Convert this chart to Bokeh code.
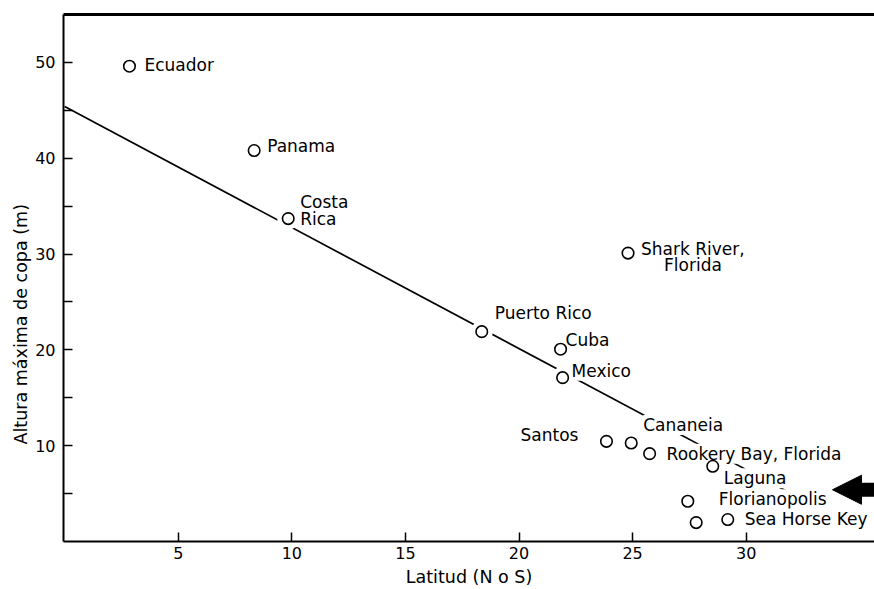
from bokeh.plotting import figure
from bokeh.models import (ColumnDataSource, LabelSet, FixedTicker, LinearAxis, Title,
                          Arrow, NormalHead, Range1d)
from bokeh.core.properties import value
from bokeh.embed import file_html
from bokeh.resources import INLINE

# ---- data ----
sites = ["Ecuador", "Panama", "Costa Rica", "Puerto Rico", "Cuba", "Mexico",
         "Shark River, Florida", "Santos", "Cananeia", "Rookery Bay, Florida",
         "Laguna", "Florianopolis", "", "Sea Horse Key"]
latitude = [2.85, 8.34, 9.84, 18.36, 21.83, 21.92, 24.8, 23.85, 24.94, 25.75,
            28.53, 27.43, 27.8, 29.19]
max_height = [49.6, 40.8, 33.7, 21.9, 20.07, 17.1, 30.1, 10.45, 10.28, 9.17,
              7.85, 4.2, 1.97, 2.29]

# regression line end points
fit_x = [0.0, 33.8]
fit_y = [45.4, 2.7]

# label lines and the site each belongs to
label_text = ["Ecuador", "Panama", "Costa", "Rica", "Puerto Rico", "Cuba", "Mexico",
              "Shark River,", "Florida", "Cananeia", "Rookery Bay, Florida",
              "Laguna", "Florianopolis", "Sea Horse Key"]
label_site = [0, 1, 2, 2, 3, 4, 5, 6, 6, 8, 9, 10, 11, 13]
right_label_text = ["Santos"]
right_label_site = [7]

x_ticks = [5, 10, 15, 20, 25, 30]
y_ticks = [10, 20, 30, 40, 50]
y_minor = [5, 15, 25, 35, 45]

x_title = "Latitud (N o S)"
y_title = "Altura máxima de copa (m)"

arrow_x = [36.5, 33.8]
arrow_y = 5.4

# ---- styling (screen offsets for labels) ----
label_dx = [15, 13, 12, 12, 13, 5, 9, 13, 36, 12, 17, 11, 31, 17]
label_dy = [1, 5, 17, 0, 19, 9, 7, 4, -12, 18, 0, -12, 2, 1]
right_dx = [-28]
right_dy = [6]

FONT = "DejaVu Sans"

p = figure(width=874, height=589, output_backend="svg", toolbar_location=None,
           x_range=Range1d(-0.053, 35.65), y_range=Range1d(0, 55),
           min_border_left=63, min_border_right=0, min_border_top=14, min_border_bottom=47)
p.outline_line_color = None
p.background_fill_color = "white"
p.border_fill_color = "white"
p.xgrid.visible = False
p.ygrid.visible = False

# axes
xa = p.xaxis[0]
xa.ticker = FixedTicker(ticks=x_ticks, minor_ticks=[])
xa.axis_line_width = 2.2
xa.axis_line_color = "black"
xa.major_tick_in = 9
xa.major_tick_out = 0
xa.major_tick_line_width = 1.5
xa.major_tick_line_color = "black"
xa.minor_tick_line_color = None
xa.major_label_text_font = FONT
xa.major_label_text_font_size = "16px"
xa.major_label_text_color = "black"
xa.major_label_standoff = 5
xa.axis_label = x_title
xa.axis_label_text_font = FONT
xa.axis_label_text_font_size = "17.5px"
xa.axis_label_text_font_style = "normal"
xa.axis_label_text_color = "black"
xa.axis_label_standoff = 5

ya = p.yaxis[0]
ya.ticker = FixedTicker(ticks=y_ticks, minor_ticks=y_minor)
ya.axis_line_width = 2
ya.axis_line_color = "black"
ya.major_tick_in = 9
ya.major_tick_out = 0
ya.minor_tick_in = 9
ya.minor_tick_out = 0
ya.major_tick_line_width = 1.5
ya.minor_tick_line_width = 1.5
ya.major_tick_line_color = "black"
ya.minor_tick_line_color = "black"
ya.major_label_text_font = FONT
ya.major_label_text_font_size = "16px"
ya.major_label_text_color = "black"
ya.major_label_standoff = 8

top = LinearAxis(ticker=FixedTicker(ticks=[]), axis_line_width=3, axis_line_color="black",
                 major_tick_line_color=None, minor_tick_line_color=None,
                 major_label_text_font_size="0px", major_tick_out=0, major_tick_in=0,
                 major_label_standoff=0)
p.add_layout(top, "above")

# y axis title, left of the axis, lower than centre as in the original
ytitle = Title(text=y_title, align="left", offset=97,
               text_font=FONT, text_font_size="17.5px", text_font_style="normal",
               text_color="black", standoff=4)
p.add_layout(ytitle, "left")

# regression line
p.line(fit_x, fit_y, line_color="black", line_width=1.7)

src = ColumnDataSource(dict(x=latitude, y=max_height, site=sites))
# white halos to break the line around points
p.scatter("x", "y", source=src, size=22, marker="circle", fill_color="white",
          line_color=None)

lab_src = ColumnDataSource(dict(
    x=[latitude[i] for i in label_site],
    y=[max_height[i] for i in label_site],
    text=label_text, dx=label_dx, dy=label_dy))
p.add_layout(LabelSet(x="x", y="y", text="text", source=lab_src,
                      x_offset="dx", y_offset="dy",
                      text_font=value(FONT), text_font_size=value("17px"),
                      text_color="black",
                      text_align="left", text_baseline="middle",
                      background_fill_color="white"))

rlab_src = ColumnDataSource(dict(
    x=[latitude[i] for i in right_label_site],
    y=[max_height[i] for i in right_label_site],
    text=right_label_text, dx=right_dx, dy=right_dy))
p.add_layout(LabelSet(x="x", y="y", text="text", source=rlab_src,
                      x_offset="dx", y_offset="dy",
                      text_font=value(FONT), text_font_size=value("17px"),
                      text_color="black",
                      text_align="right", text_baseline="middle",
                      background_fill_color="white"))

# open circles on top
pts = p.scatter("x", "y", source=src, size=11.5, marker="circle", fill_color="white",
                line_color="black", line_width=1.6)
pts.level = "overlay"

# arrow
p.add_layout(Arrow(x_start=arrow_x[0], y_start=arrow_y, x_end=arrow_x[1], y_end=arrow_y,
                   line_width=14, line_color="black",
                   end=NormalHead(size=29, fill_color="black", line_color="black")))

open("out.html", "w").write(file_html(p, INLINE))
